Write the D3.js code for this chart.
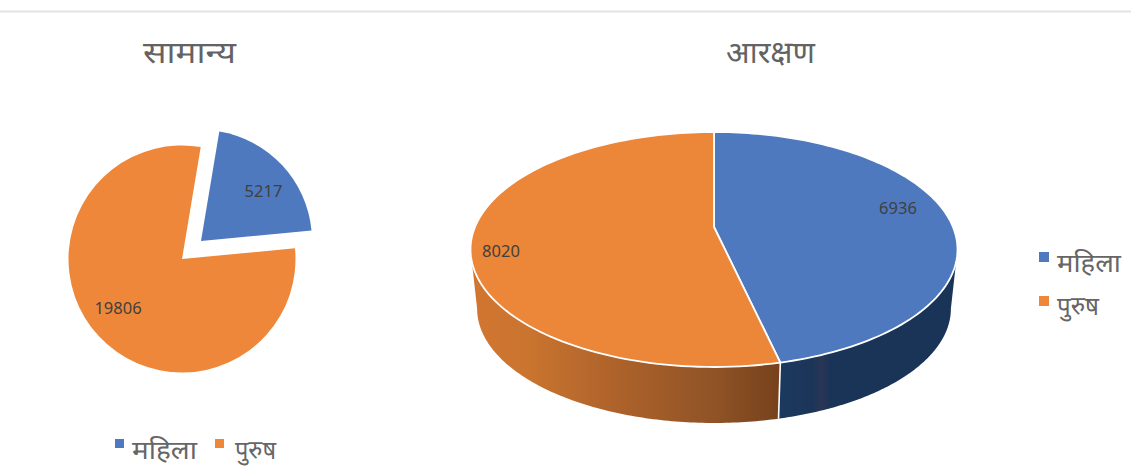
<!DOCTYPE html>
<html lang="ne">
<head>
<meta charset="utf-8">
<script src="https://cdn.jsdelivr.net/npm/d3@7"></script>
<style>
  html, body { margin: 0; padding: 0; background: #fff; }
  svg { display: block; }
  text { font-family: "Noto Sans", "Noto Sans Devanagari", "Open Sans", sans-serif; }
</style>
</head>
<body>
<svg id="chart" width="1131" height="474"></svg>
<script>
const categories = ["महिला", "पुरुष"];
const titles = ["सामान्य", "आरक्षण"];
const generalValues = [5217, 19806];
const reservedValues = [6936, 8020];
const colors = ["#4e79bf", "#ef873a"];

const svg = d3.select("#chart");
const rad = d => d * Math.PI / 180;

svg.append("rect").attr("x", 0).attr("y", 10.5).attr("width", 1131).attr("height", 2).attr("fill", "#e3e3e3");

const title = (text, x, width) => svg.append("text")
  .attr("x", x).attr("y", 63).attr("text-anchor", "middle")
  .attr("textLength", width).attr("lengthAdjust", "spacingAndGlyphs")
  .attr("font-size", 30).attr("fill", "#636363").text(text);
title(titles[0], 189.5, 93);
title(titles[1], 770.5, 89);

const valueLabel = (value, x, y) => svg.append("text")
  .attr("x", x).attr("y", y).attr("text-anchor", "middle")
  .attr("font-size", 16.5).attr("fill", "#404040").text(value);

/* Flat pie with the smaller slice pulled out */
const flatSlices = d3.pie().sort(null).startAngle(rad(9.5)).endAngle(rad(369.5))(generalValues);
const flat = svg.append("g");
flat.append("path")
  .attr("transform", "translate(182,259)")
  .attr("d", d3.arc().innerRadius(0).outerRadius(113.5)(flatSlices[1]))
  .attr("fill", colors[1]);
flat.append("path")
  .attr("transform", "translate(201,241)")
  .attr("d", d3.arc().innerRadius(0).outerRadius(111)(flatSlices[0]))
  .attr("fill", colors[0]);
valueLabel(generalValues[0], 263.5, 197);
valueLabel(generalValues[1], 118, 314);

/* Tilted pie: the circle is projected with perspective, the base sits lower and slightly smaller */
const tilt = 0.1915;
const project = (angle, disc) => {
  const u = Math.sin(angle), v = -Math.cos(angle), w = 1 - tilt * v;
  return [714 + disc.rx * u / w, disc.cy + disc.ry * v / w];
};
const topDisc = { cy: 227, rx: 239, ry: 113.2 };
const baseDisc = { cy: 286.8, rx: 232.5, ry: 110.1 };

const arcPoints = (a0, a1, disc) =>
  d3.range(0, 121).map(i => project(a0 + (a1 - a0) * i / 120, disc));
const line = d3.line();

const tiltedSlices = d3.pie().sort(null).startAngle(0).endAngle(2 * Math.PI)(reservedValues);
const tangent = Math.acos(-tilt);

const defs = svg.append("defs");
const wallGradient = (id, stops) => {
  const g = defs.append("linearGradient").attr("id", id)
    .attr("gradientUnits", "userSpaceOnUse")
    .attr("x1", 472).attr("x2", 958).attr("y1", 0).attr("y2", 0);
  stops.forEach(([o, c]) => g.append("stop").attr("offset", o).attr("stop-color", c));
};
wallGradient("wall-orange", [[0, "#d27631"], [0.12, "#c9742f"], [0.3, "#ad622a"], [0.5, "#8f5326"], [0.635, "#76411b"]]);
wallGradient("wall-blue", [[0.63, "#1b3a60"], [0.7, "#1b3558"], [0.72, "#2b3555"], [0.735, "#1a3458"], [1, "#1a3458"]]);

const tilted = svg.append("g");
const wallRanges = [
  { from: tangent, to: tiltedSlices[0].endAngle, fill: "url(#wall-blue)" },
  { from: tiltedSlices[0].endAngle, to: 2 * Math.PI - tangent, fill: "url(#wall-orange)" }
];
wallRanges.forEach(r => {
  const pts = arcPoints(r.from, r.to, topDisc).concat(arcPoints(r.to, r.from, baseDisc));
  tilted.append("path").attr("d", line(pts) + "Z").attr("fill", r.fill);
});

// Seam between the two wall colours
const seam = tiltedSlices[0].endAngle;
tilted.append("path")
  .attr("d", line([project(seam, topDisc), project(seam, baseDisc)]))
  .attr("stroke", "#fff").attr("stroke-width", 1.6).attr("fill", "none");

tiltedSlices.forEach((s, i) => {
  const pts = [[714, topDisc.cy]].concat(arcPoints(s.startAngle, s.endAngle, topDisc));
  tilted.append("path").attr("d", line(pts) + "Z")
    .attr("fill", i === 1 ? "#ec8638" : colors[i])
    .attr("stroke", "#fff").attr("stroke-width", 1.8).attr("stroke-linejoin", "round");
});
valueLabel(reservedValues[0], 898, 214);
valueLabel(reservedValues[1], 501, 257);

/* Legends */
const legendEntry = (i, sx, sy, size, tx, ty, width) => {
  svg.append("rect").attr("x", sx).attr("y", sy).attr("width", size).attr("height", size).attr("fill", colors[i]);
  svg.append("text").attr("x", tx).attr("y", ty)
    .attr("textLength", width).attr("lengthAdjust", "spacingAndGlyphs")
    .attr("font-size", 25).attr("fill", "#666").text(categories[i]);
};
legendEntry(0, 115, 439, 9, 132, 459, 65);
legendEntry(1, 215, 439, 9, 235, 459, 41);
legendEntry(0, 1039, 252, 10, 1057, 272, 64);
legendEntry(1, 1039, 296, 10, 1057, 315, 42);
</script>
</body>
</html>
